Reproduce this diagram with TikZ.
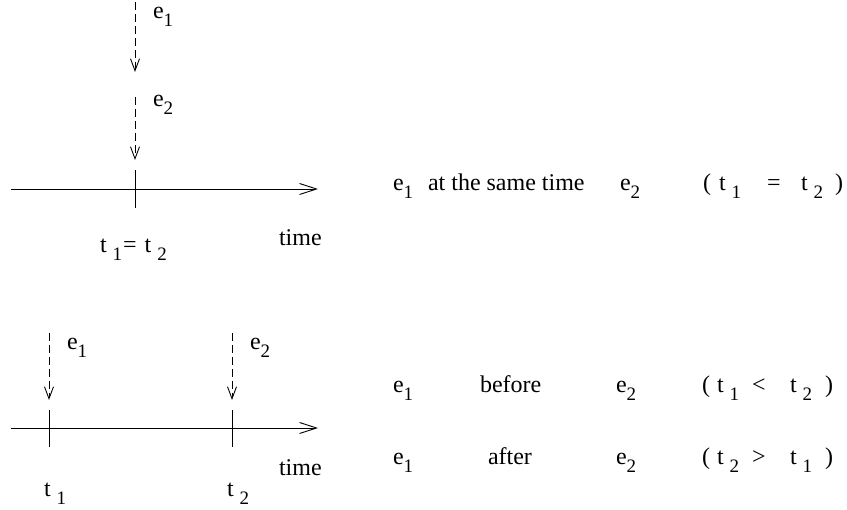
\documentclass[tikz,border=0pt]{standalone}
\usepackage{fontspec}
\setmainfont{Liberation Serif}
\usetikzlibrary{arrows.meta}
\newcommand{\lowsub}[1]{\lower8pt\hbox{\fontsize{19}{19}\selectfont #1}}
\newcommand{\ev}[1]{e\lowsub{#1}}
\newcommand{\tsub}[1]{t\kern6pt\lowsub{#1}}
\begin{document}
\begin{tikzpicture}[x=1pt,y=-1pt,
  line width=0.9pt,
  txt/.style={anchor=base west,inner sep=0pt,outer sep=0pt,font=\fontsize{24}{28}\selectfont},
  evarrow/.style={dash pattern=on 8pt off 4pt,-{Straight Barb[length=12pt,width=9pt]}},
  axis/.style={-{Straight Barb[length=17pt,width=11pt]}},
  tick/.style={}]
\useasboundingbox (0,0) rectangle (847,510);
% ---------- top diagram ----------
\coordinate (a1s) at (135,2);
\coordinate (a1e) at (135,72);
\coordinate (a2s) at (135,97);
\coordinate (a2e) at (135,160);
\coordinate (k0t) at (135,170);
\coordinate (k0b) at (135,208);
\coordinate (x0s) at (11,189);
\coordinate (x0e) at (318,189);
\draw[evarrow] (a1s) -- (a1e);
\draw[evarrow] (a2s) -- (a2e);
\draw[tick] (k0t) -- (k0b);
\draw[axis] (x0s) -- (x0e);
\node[txt] (te1) at (153,19) {\ev{1}};
\node[txt] (te2) at (153,107) {\ev{2}};
\node[txt] (ttime) at (279,246) {time};
\node[txt] (teq) at (100,253) {\tsub{1}\kern1pt=\kern8pt\tsub{2}};
% ---------- bottom diagram ----------
\coordinate (b1s) at (49,333);
\coordinate (b1e) at (49,400);
\coordinate (b2s) at (232,333);
\coordinate (b2e) at (232,400);
\coordinate (k1t) at (49,410);
\coordinate (k1b) at (49,447);
\coordinate (k2t) at (232,410);
\coordinate (k2b) at (232,447);
\coordinate (x1s) at (11,428);
\coordinate (x1e) at (318,428);
\draw[evarrow] (b1s) -- (b1e);
\draw[evarrow] (b2s) -- (b2e);
\draw[tick] (k1t) -- (k1b);
\draw[tick] (k2t) -- (k2b);
\draw[axis] (x1s) -- (x1e);
\node[txt] (be1) at (67,350) {\ev{1}};
\node[txt] (be2) at (250,350) {\ev{2}};
\node[txt] (btime) at (279,476) {time};
\node[txt] (bt1) at (44,497) {\tsub{1}};
\node[txt] (bt2) at (227,497) {\tsub{2}};
% ---------- right text ----------
% row 1
\node[txt] (r1a) at (393,191) {\ev{1}};
\node[txt] (r1b) at (428,191) {at the same time};
\node[txt] (r1c) at (620,191) {\ev{2}};
\node[txt] (r1p) at (703,191) {(};
\node[txt] (r1t) at (719,191) {\tsub{1}};
\node[txt] (r1r) at (767,191) {=};
\node[txt] (r1u) at (801,191) {\tsub{2}};
\node[txt] (r1q) at (835,191) {)};
% row 2
\node[txt] (r2a) at (393,393) {\ev{1}};
\node[txt] (r2b) at (480,393) {before};
\node[txt] (r2c) at (616,393) {\ev{2}};
\node[txt] (r2p) at (702,393) {(};
\node[txt] (r2t) at (717,393) {\tsub{1}};
\node[txt] (r2r) at (752,393) {<};
\node[txt] (r2u) at (790,393) {\tsub{2}};
\node[txt] (r2q) at (825,393) {)};
% row 3
\node[txt] (r3a) at (393,465) {\ev{1}};
\node[txt] (r3b) at (488,465) {after};
\node[txt] (r3c) at (616,465) {\ev{2}};
\node[txt] (r3p) at (702,465) {(};
\node[txt] (r3t) at (717,465) {\tsub{2}};
\node[txt] (r3r) at (752,465) {>};
\node[txt] (r3u) at (790,465) {\tsub{1}};
\node[txt] (r3q) at (825,465) {)};
\end{tikzpicture}
\end{document}
